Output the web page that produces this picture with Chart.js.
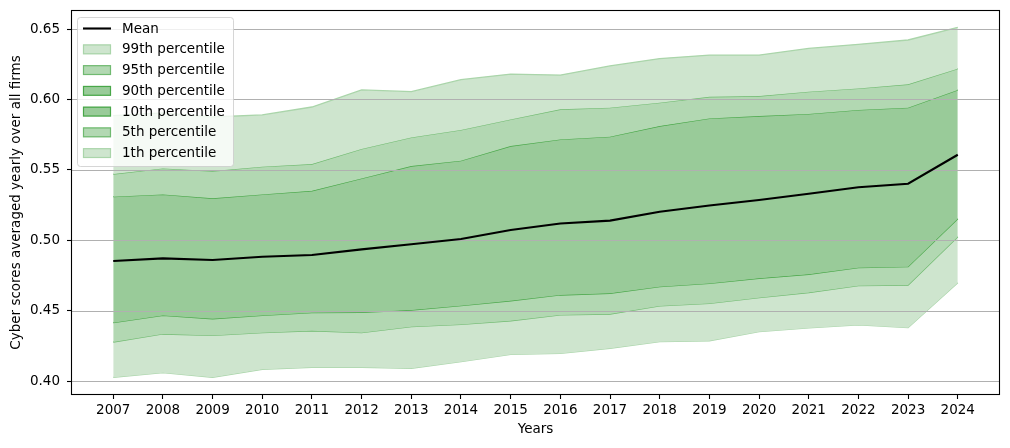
<!DOCTYPE html>
<html>
<head>
<meta charset="utf-8">
<script src="https://cdn.jsdelivr.net/npm/chart.js@4.4.1/dist/chart.umd.min.js"></script>
<style>
html,body{margin:0;padding:0;background:#fff;}
#wrap{width:1010px;height:448px;}
</style>
</head>
<body>
<div id="wrap"><canvas id="c" width="1010" height="448"></canvas></div>
<script>
const years = [2007,2008,2009,2010,2011,2012,2013,2014,2015,2016,2017,2018,2019,2020,2021,2022,2023,2024];
const meanVals = [0.4852,0.4871,0.4859,0.4883,0.4895,0.4935,0.4971,0.5009,0.5072,0.5119,0.5139,0.5202,0.5247,0.5286,0.5330,0.5376,0.5401,0.5607];
const p99 = [0.5885,0.5905,0.5875,0.5890,0.5946,0.6067,0.6055,0.6140,0.6180,0.6173,0.6238,0.6290,0.6315,0.6315,0.6362,0.6391,0.6422,0.6512];
const p95 = [0.5470,0.5510,0.5491,0.5522,0.5541,0.5648,0.5730,0.5783,0.5858,0.5930,0.5941,0.5977,0.6019,0.6024,0.6055,0.6078,0.6107,0.6218];
const p90 = [0.5309,0.5325,0.5298,0.5325,0.5351,0.5439,0.5527,0.5565,0.5669,0.5716,0.5735,0.5811,0.5865,0.5882,0.5897,0.5925,0.5941,0.6067];
const p10 = [0.4414,0.4466,0.4442,0.4466,0.4485,0.4488,0.4504,0.4535,0.4570,0.4611,0.4623,0.4670,0.4693,0.4729,0.4758,0.4805,0.4812,0.5153];
const p5  = [0.4277,0.4334,0.4324,0.4343,0.4357,0.4343,0.4386,0.4402,0.4428,0.4469,0.4476,0.4533,0.4551,0.4592,0.4628,0.4677,0.4682,0.5025];
const p1  = [0.4026,0.4059,0.4026,0.4083,0.4097,0.4097,0.4090,0.4137,0.4189,0.4196,0.4232,0.4279,0.4286,0.4350,0.4377,0.4398,0.4379,0.4698];
const yTicks = [0.40,0.45,0.50,0.55,0.60,0.65];
const seriesLabels = ['Mean','99th percentile','95th percentile','90th percentile','10th percentile','5th percentile','1th percentile'];

const FONT = "'DejaVu Sans', sans-serif";
const FS = 13.5;
const LIGHT = 'rgb(206,229,206)', MED = 'rgb(178,216,178)', DARK = 'rgb(153,203,153)';
const E_LIGHT = 'rgb(170,213,170)', E_MED = 'rgb(112,186,112)', E_DARK = 'rgb(72,167,72)';

const pts = arr => years.map((y,i)=>({x:y, y:arr[i]}));
function band(label, arr, fillColor, edge, fill){
  return {label, data: pts(arr), borderColor: edge, borderWidth: 1.3, backgroundColor: fillColor,
          fill: fill, pointRadius: 0, tension: 0};
}
const datasets = [
  {label: seriesLabels[0], data: pts(meanVals), borderColor:'#000', borderWidth: 2.1, pointRadius:0, fill:false, tension:0},
  band(seriesLabels[1], p99, LIGHT, E_LIGHT, '+1'),
  band(seriesLabels[2], p95, MED, E_MED, '+1'),
  band(seriesLabels[3], p90, DARK, E_DARK, '+1'),
  band(seriesLabels[4], p10, MED, E_DARK, '+1'),
  band(seriesLabels[5], p5, LIGHT, E_MED, '+1'),
  band(seriesLabels[6], p1, LIGHT, E_LIGHT, false)
];
const legendItems = [
  {type:'line', color:'#000'},
  {type:'patch', fill:LIGHT, edge:E_LIGHT},
  {type:'patch', fill:MED, edge:E_MED},
  {type:'patch', fill:DARK, edge:E_DARK},
  {type:'patch', fill:DARK, edge:E_DARK},
  {type:'patch', fill:MED, edge:E_MED},
  {type:'patch', fill:LIGHT, edge:E_LIGHT}
];

const decor = {
  id: 'decor',
  beforeDatasetDraw(chart, args){
    if (args.index !== 0) return;
    const ctx = chart.ctx, a = chart.chartArea, ys = chart.scales.y;
    ctx.save();
    ctx.strokeStyle = '#b0b0b0'; ctx.lineWidth = 1.1;
    yTicks.forEach(v=>{
      const py = Math.round(ys.getPixelForValue(v)) + 0.5;
      ctx.beginPath(); ctx.moveTo(a.left, py); ctx.lineTo(a.right, py); ctx.stroke();
    });
    ctx.restore();
  },
  afterDraw(chart){
    const ctx = chart.ctx, a = chart.chartArea;
    ctx.save();
    ctx.strokeStyle = '#000'; ctx.lineWidth = 1.1;
    ctx.strokeRect(Math.round(a.left)+0.5, Math.round(a.top)+0.5, Math.round(a.right-a.left)-1, Math.round(a.bottom-a.top)-1);
    // legend
    const lx = 77.5, ly = 17.5, lw = 156, lh = 149, r = 3;
    ctx.beginPath();
    ctx.moveTo(lx+r, ly); ctx.lineTo(lx+lw-r, ly); ctx.arcTo(lx+lw, ly, lx+lw, ly+r, r);
    ctx.lineTo(lx+lw, ly+lh-r); ctx.arcTo(lx+lw, ly+lh, lx+lw-r, ly+lh, r);
    ctx.lineTo(lx+r, ly+lh); ctx.arcTo(lx, ly+lh, lx, ly+lh-r, r);
    ctx.lineTo(lx, ly+r); ctx.arcTo(lx, ly, lx+r, ly, r); ctx.closePath();
    ctx.fillStyle = 'rgba(255,255,255,0.8)'; ctx.fill();
    ctx.strokeStyle = 'rgba(204,204,204,0.8)'; ctx.lineWidth = 1; ctx.stroke();
    ctx.font = FS + 'px ' + FONT;
    ctx.textBaseline = 'middle'; ctx.textAlign = 'left';
    legendItems.forEach((it,i)=>{
      const cy = 28.5 + i*20.75;
      if (it.type === 'line'){
        ctx.strokeStyle = it.color; ctx.lineWidth = 2.1;
        ctx.beginPath(); ctx.moveTo(83, cy); ctx.lineTo(111, cy); ctx.stroke();
      } else {
        ctx.fillStyle = it.fill; ctx.fillRect(83, cy-4.8, 28, 9.8);
        ctx.strokeStyle = it.edge; ctx.lineWidth = 1.2; ctx.strokeRect(83.5, cy-4.3, 27, 8.8);
      }
      ctx.fillStyle = '#000';
      ctx.fillText(seriesLabels[i], 122, cy + 0.5);
    });
    ctx.restore();
  }
};

new Chart(document.getElementById('c'), {
  type: 'line',
  data: { datasets },
  options: {
    responsive: false, animation: false, devicePixelRatio: 1,
    layout: { padding: { top: 10, right: 10, left: 0, bottom: 0 } },
    plugins: { legend: { display: false }, tooltip: { enabled: false } },
    scales: {
      x: {
        type: 'linear', min: 2006.15, max: 2024.85,
        afterBuildTicks: ax => { ax.ticks = years.map(v=>({value:v})); },
        afterFit: sc => { sc.height = 53; sc.paddingLeft = 0; sc.paddingRight = 0; },
        grid: { display: true, drawOnChartArea: false, drawTicks: true, tickLength: 4, tickColor: '#000', tickWidth: 1.1 },
        border: { display: false },
        ticks: { color: '#000', font: { family: FONT, size: FS }, padding: 3, maxRotation: 0, autoSkip: false,
                 callback: v => String(v) },
        title: { display: true, text: 'Years', color: '#000', font: { family: FONT, size: FS }, padding: { top: 0, bottom: 10 } }
      },
      y: {
        type: 'linear', min: 0.39006, max: 0.6635,
        afterBuildTicks: ax => { ax.ticks = yTicks.map(v=>({value:v})); },
        afterFit: sc => { sc.width = 71; sc.paddingTop = 0; sc.paddingBottom = 0; },
        grid: { display: true, drawOnChartArea: false, drawTicks: true, tickLength: 4, tickColor: '#000', tickWidth: 1.1 },
        border: { display: false },
        ticks: { color: '#000', font: { family: FONT, size: FS }, padding: 7, callback: v => v.toFixed(2) },
        title: { display: true, text: 'Cyber scores averaged yearly over all firms', color: '#000', font: { family: FONT, size: FS }, padding: { top: 8, bottom: 0 } }
      }
    }
  },
  plugins: [decor]
});
</script>
</body>
</html>
